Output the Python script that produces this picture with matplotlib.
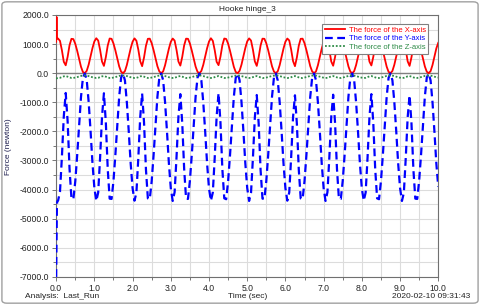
import numpy as np
import matplotlib
matplotlib.use("Agg")
import matplotlib.pyplot as plt
from matplotlib.ticker import MultipleLocator, FormatStrFormatter
from matplotlib.patches import FancyBboxPatch

plt.rcParams['font.family'] = ['Liberation Sans', 'DejaVu Sans']
plt.rcParams['font.size'] = 6

# time samples: a few at the start (transient), then every 0.05 s
time_start = [0.0, 0.01, 0.02, 0.03]
time_grid = np.round(np.arange(0.05, 10.0001, 0.05), 2)

# values, one row per cycle (t = k+0.05 ... k+1.00)
force_x_start = [1080, 1930, 1180, 1200]
force_x_cycles = [
    [1190, 1110, 790, 390, 270, 560, 960, 1180, 1170, 1010, 770, 490, 220, 40, 0, 80, 290, 570, 860, 1090],
    [1200, 1120, 800, 400, 250, 550, 950, 1190, 1180, 1020, 780, 500, 230, 50, 0, 70, 280, 560, 850, 1080],
    [1195, 1115, 810, 410, 240, 540, 940, 1180, 1185, 1030, 790, 510, 240, 60, 0, 60, 270, 550, 840, 1075],
    [1190, 1120, 800, 400, 260, 560, 955, 1185, 1180, 1020, 775, 495, 225, 45, 0, 75, 285, 565, 855, 1085],
    [1200, 1110, 790, 390, 275, 565, 960, 1190, 1175, 1015, 770, 490, 220, 40, 0, 80, 290, 570, 860, 1090],
    [1195, 1120, 805, 405, 250, 550, 950, 1185, 1180, 1025, 785, 505, 235, 55, 0, 65, 275, 555, 845, 1080],
    [1190, 1125, 815, 415, 240, 540, 945, 1180, 1185, 1030, 790, 510, 240, 60, 0, 60, 270, 550, 840, 1075],
    [1200, 1115, 800, 400, 255, 555, 955, 1190, 1180, 1020, 780, 500, 230, 50, 0, 70, 280, 560, 850, 1080],
    [1195, 1110, 795, 395, 265, 560, 960, 1185, 1175, 1015, 775, 495, 225, 45, 0, 75, 285, 565, 855, 1085],
    [1190, 1120, 805, 405, 250, 550, 950, 1180, 1180, 1020, 780, 500, 230, 50, 0, 70, 280, 560, 850, 1040],
]

force_y_start = [-7000, -5600, -4500, -4400]
force_y_cycles = [
    [-4380, -4080, -2880, -1480, -680, -1650, -3280, -4300, -4330, -3720, -2820, -1820, -820, -160, -10, -240, -980, -1980, -3080, -3940],
    [-4390, -4100, -2900, -1500, -690, -1690, -3300, -4310, -4320, -3700, -2800, -1800, -800, -150, -10, -250, -1000, -2000, -3100, -3950],
    [-4380, -4110, -2920, -1510, -700, -1700, -3310, -4300, -4330, -3710, -2810, -1810, -810, -155, -10, -245, -990, -1990, -3090, -3950],
    [-4390, -4090, -2890, -1500, -720, -1720, -3290, -4310, -4320, -3700, -2800, -1800, -800, -150, -10, -250, -1000, -2000, -3100, -3960],
    [-4380, -4100, -2900, -1490, -690, -1690, -3300, -4300, -4330, -3720, -2820, -1820, -820, -160, -10, -240, -980, -1980, -3080, -3940],
    [-4390, -4110, -2910, -1520, -750, -1730, -3320, -4310, -4320, -3700, -2800, -1800, -800, -150, -10, -250, -1000, -2000, -3100, -3950],
    [-4380, -4100, -2900, -1510, -760, -1740, -3310, -4300, -4330, -3710, -2810, -1810, -810, -155, -10, -245, -990, -1990, -3090, -3950],
    [-4390, -4090, -2890, -1500, -740, -1720, -3300, -4310, -4320, -3700, -2800, -1800, -800, -150, -10, -250, -1000, -2000, -3100, -3960],
    [-4380, -4100, -2900, -1500, -720, -1710, -3290, -4300, -4330, -3720, -2820, -1820, -820, -160, -10, -240, -980, -1980, -3080, -3940],
    [-4390, -4110, -2910, -1510, -760, -1740, -3320, -4310, -4320, -3700, -2800, -1800, -800, -150, -10, -250, -1000, -2000, -3100, -3900],
]

force_z_start = [-190, -185, -175, -170]
force_z_cycles = [
    [-165, -160, -135, -110, -100, -120, -145, -165, -165, -150, -135, -115, -95, -85, -80, -85, -100, -120, -140, -155],
    [-165, -160, -135, -110, -100, -120, -145, -165, -165, -150, -135, -115, -95, -85, -80, -85, -100, -120, -140, -155],
    [-165, -160, -140, -110, -100, -120, -145, -165, -165, -150, -135, -115, -95, -85, -80, -85, -100, -120, -140, -155],
    [-165, -160, -135, -110, -100, -120, -145, -165, -165, -150, -135, -115, -95, -85, -80, -85, -100, -120, -140, -155],
    [-165, -160, -135, -110, -100, -120, -145, -165, -165, -150, -135, -115, -95, -85, -80, -85, -100, -120, -140, -155],
    [-165, -160, -135, -110, -100, -120, -145, -165, -165, -150, -135, -115, -95, -85, -80, -85, -100, -120, -140, -155],
    [-165, -160, -140, -110, -100, -120, -145, -165, -165, -150, -135, -115, -95, -85, -80, -85, -100, -120, -140, -155],
    [-165, -160, -135, -110, -100, -120, -145, -165, -165, -150, -135, -115, -95, -85, -80, -85, -100, -120, -140, -155],
    [-165, -160, -135, -110, -100, -120, -145, -165, -165, -150, -135, -115, -95, -85, -80, -85, -100, -120, -140, -155],
    [-165, -160, -135, -110, -100, -120, -145, -165, -165, -150, -135, -115, -95, -85, -80, -85, -100, -120, -140, -150],
]

labels = ["The force of the X-axis", "The force of the Y-axis", "The force of the Z-axis"]
colors = ["#ff0000", "#0000ff", "#2e8b47"]

time = np.concatenate([time_start, time_grid])
force_x = np.concatenate([force_x_start] + force_x_cycles)
force_y = np.concatenate([force_y_start] + force_y_cycles)
force_z = np.concatenate([force_z_start] + force_z_cycles)

fig = plt.figure(figsize=(4.8, 3.05), dpi=100)
ax = fig.add_axes([0.117, 0.092, 0.796, 0.859])

ax.axhline(0, color="#808080", lw=1.0, zorder=1.5)
ax.plot(time, force_x, color=colors[0], lw=1.3, label=labels[0], zorder=3)
ax.plot(time, force_y, color=colors[1], lw=1.6, ls=(0, (3.5, 2)), label=labels[1], zorder=3)
ax.plot(time, force_z, color=colors[2], lw=1.3, ls=(0, (1, 1)), label=labels[2], zorder=3)

ax.set_xlim(0, 10)
ax.set_ylim(-7000, 2000)
ax.xaxis.set_major_locator(MultipleLocator(1))
ax.xaxis.set_minor_locator(MultipleLocator(0.5))
ax.yaxis.set_major_locator(MultipleLocator(1000))
ax.yaxis.set_minor_locator(MultipleLocator(500))
ax.xaxis.set_major_formatter(FormatStrFormatter('%.1f'))
ax.yaxis.set_major_formatter(FormatStrFormatter('%.1f'))
ax.grid(which='both', color='#dcdcdc', lw=0.8)
ax.set_axisbelow(True)
ax.tick_params(which='major', length=3, width=0.6, color='#606060', labelsize=6.2, labelcolor='#222222', pad=2)
ax.tick_params(which='minor', length=2, width=0.6, color='#606060')
for s in ax.spines.values():
    s.set_color('#707070')
    s.set_linewidth(0.8)

ax.set_title("Hooke hinge_3", fontsize=6, pad=3, color='#222222')
fig.text(0.017, 0.52, "Force (newton)", rotation=90, ha='center', va='center', fontsize=6, color='#202050')

leg = ax.legend(loc='upper right', bbox_to_anchor=(0.974, 0.966), fontsize=5.5, frameon=True, fancybox=False,
                edgecolor='#808080', framealpha=1, handlelength=2.6, borderpad=0.35, labelspacing=0.15,
                handletextpad=0.5, borderaxespad=0)
leg.get_frame().set_linewidth(0.8)
for txt, c in zip(leg.get_texts(), colors):
    txt.set_color(c)

fig.text(0.052, 0.027, "Analysis:  Last_Run", fontsize=6, color='#222222', va='center')
fig.text(0.515, 0.027, "Time (sec)", fontsize=6, color='#222222', ha='center', va='center')
fig.text(0.979, 0.027, "2020-02-10 09:31:43", fontsize=6, color='#222222', ha='right', va='center')

border = FancyBboxPatch((0.004, 0.006), 0.992, 0.988, boxstyle="round,pad=0,rounding_size=0.01",
                        transform=fig.transFigure, fill=False, edgecolor='#a0a0a0', lw=1.0)
fig.patches.append(border)

fig.savefig("out.png", dpi=100)
